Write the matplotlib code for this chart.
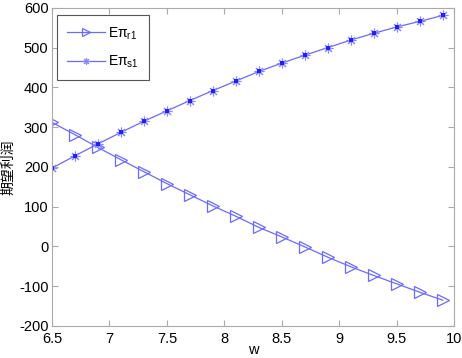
import numpy as np
import matplotlib.pyplot as plt

plt.rcParams['font.family'] = ['Liberation Sans', 'Noto Sans CJK SC', 'DejaVu Sans']
plt.rcParams['mathtext.fontset'] = 'custom'
plt.rcParams['mathtext.rm'] = 'Liberation Sans'
plt.rcParams['mathtext.it'] = 'Liberation Sans'
plt.rcParams['axes.unicode_minus'] = False

# w 取值
w = [6.5, 6.7, 6.9, 7.1, 7.3, 7.5, 7.7, 7.9, 8.1,
     8.3, 8.5, 8.7, 8.9, 9.1, 9.3, 9.5, 9.7, 9.9]
# 零售商期望利润
E_r1 = [312, 281, 249, 218, 188, 158, 130, 102, 76,
        48, 24, -1, -27, -51, -73, -94, -115, -135]
# 供应商期望利润
E_s1 = [197, 228, 258, 287, 315, 341, 367, 392, 416,
        440, 461, 481, 500, 519, 536, 552, 566, 581]

col = '#6a6aff'

fig = plt.figure(figsize=(4.62, 3.58), dpi=100)
ax = fig.add_axes([0.1126, 0.0894, 0.8704, 0.8886])

ax.plot(w, E_r1, color=col, lw=0.9, marker='>', markersize=9,
        markerfacecolor='none', markeredgecolor=col, markeredgewidth=0.9,
        label=r'E$\pi_{\rm r1}$')
ax.plot(w, E_s1, color=col, lw=0.9, marker=(8, 2, 0), markersize=7,
        markeredgecolor='#8a8aff', markeredgewidth=0.8,
        label=r'E$\pi_{\rm s1}$')
ax.plot(w, E_s1, ls='none', marker='s', markersize=2.2,
        markerfacecolor='#2020ff', markeredgewidth=0)

ax.set_xlim(6.5, 10)
ax.set_ylim(-200, 600)
ax.set_xticks(np.arange(6.5, 10.01, 0.5))
ax.set_xticklabels(['6.5', '7', '7.5', '8', '8.5', '9', '9.5', '10'])
ax.set_yticks(np.arange(-200, 601, 100))

ax.tick_params(direction='in', top=True, right=True, labelsize=10.5,
               color='#aaaaaa', length=4, width=0.8, pad=2.5)
ax.tick_params(axis='x', pad=4)
for s in ax.spines.values():
    s.set_color('#aaaaaa')
    s.set_linewidth(0.8)

ax.set_xlabel('w', fontsize=10.5)
ax.xaxis.set_label_coords(0.5, -0.053)
ax.set_ylabel('期望利润', fontsize=10, family=['Noto Sans CJK SC'])
ax.yaxis.set_label_coords(-0.09, 0.5)

leg = ax.legend(loc='upper left', fontsize=10, fancybox=False, framealpha=1,
                edgecolor='#555555', borderpad=0.75, handlelength=2.7,
                handletextpad=0.2, labelspacing=0.85, markerscale=0.7,
                borderaxespad=0, bbox_to_anchor=(0.0124, 0.978))
leg.get_frame().set_linewidth(0.8)

fig.savefig('out.png', dpi=100)
